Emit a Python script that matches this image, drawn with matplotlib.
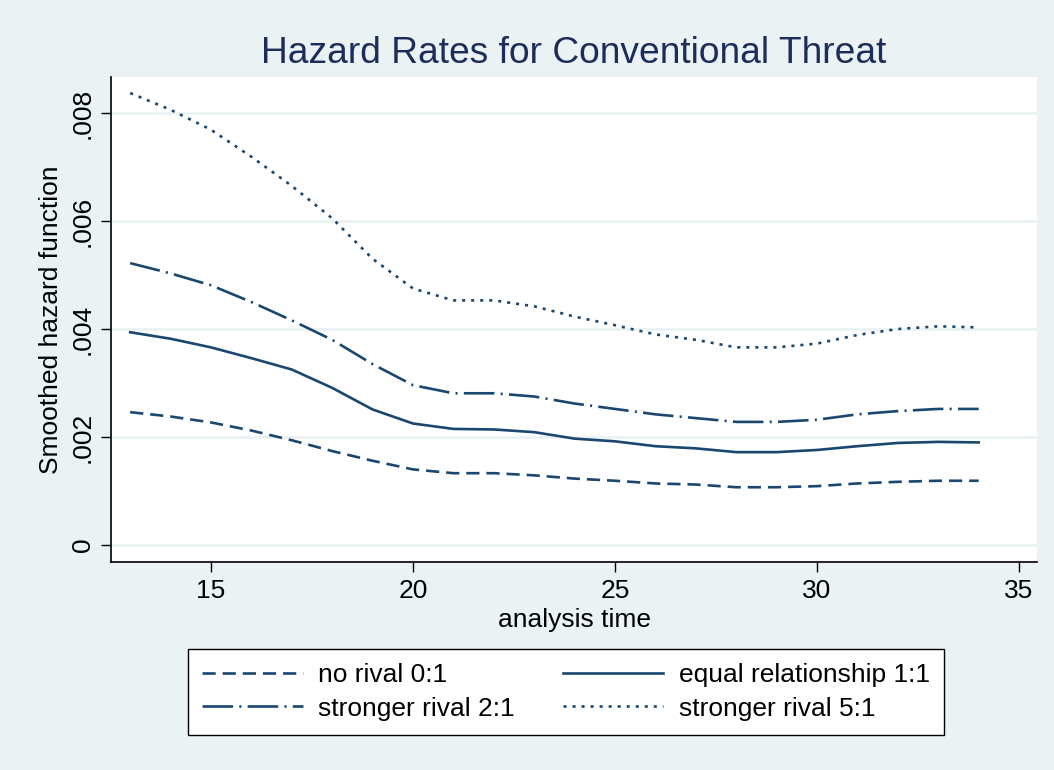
import matplotlib
matplotlib.use("Agg")
import matplotlib.pyplot as plt
import numpy as np

# Smoothed hazard estimates
t = [13, 14, 15, 16, 17, 18, 19, 20, 21, 22, 23, 24, 25, 26, 27, 28, 29, 30, 31, 32, 33, 34]
h_no_rival = [.00246, .00238, .00227, .00212, .00194, .00174, .00156, .00140, .00133, .00133, .00129,
              .00123, .00119, .00114, .00112, .00107, .00107, .00109, .00114, .00117, .00119, .00119]
h_equal = [.00394, .00382, .00366, .00346, .00325, .00291, .00251, .00225, .00215, .00214, .00209,
           .00197, .00192, .00183, .00179, .00172, .00172, .00176, .00183, .00189, .00191, .00190]
h_rival2 = [.00522, .00503, .00481, .00450, .00416, .00380, .00335, .00296, .00281, .00281, .00275,
            .00262, .00252, .00242, .00235, .00228, .00228, .00232, .00242, .00248, .00252, .00252]
h_rival5 = [.00837, .00806, .00769, .00719, .00665, .00605, .00530, .00475, .00453, .00453, .00442,
            .00423, .00407, .00390, .00380, .00366, .00366, .00373, .00389, .00400, .00405, .00403]

labels = ["no rival 0:1", "equal relationship 1:1", "stronger rival 2:1", "stronger rival 5:1"]
xticks = [15, 20, 25, 30, 35]
yticks = [0, .002, .004, .006, .008]
yticklabels = ["0", ".002", ".004", ".006", ".008"]

plt.rcParams['font.family'] = ['Liberation Sans', 'DejaVu Sans']
plt.rcParams['lines.scale_dashes'] = False

bg = "#eaf2f3"
navy = "#1a476f"
fs = 19

fig = plt.figure(figsize=(10.54, 7.7), dpi=100, facecolor=bg)
ax = fig.add_axes([0.1053, 0.2701, 0.8786, 0.6299])
ax.set_facecolor("white")

lw = 1.9
l1, = ax.plot(t, h_no_rival, color=navy, lw=lw, dashes=(9.5, 5))
l2, = ax.plot(t, h_equal, color=navy, lw=lw)
l3, = ax.plot(t, h_rival2, color=navy, lw=lw, dashes=(22, 4.5, 1.5, 4.5))
l4, = ax.plot(t, h_rival5, color=navy, lw=lw, dashes=(2.2, 4.3))

ax.set_xlim(12.525, 35.445)
ax.set_ylim(-0.000315, 0.008667)
ax.set_xticks(xticks)
ax.set_yticks(yticks)
ax.set_yticklabels(yticklabels, rotation=90, va="center")
ax.tick_params(axis="both", length=7.5, width=1, labelsize=fs, color="black")
ax.tick_params(axis="x", pad=5)
ax.tick_params(axis="y", pad=4)
ax.grid(axis="y", color=bg, lw=2)
ax.set_axisbelow(True)
for s in ["top", "right"]:
    ax.spines[s].set_visible(False)
for s in ["left", "bottom"]:
    ax.spines[s].set_linewidth(1.2)

ax.set_xlabel("analysis time", fontsize=fs, labelpad=3)
ax.set_ylabel("Smoothed hazard function", fontsize=fs, labelpad=6)
ax.set_title("Hazard Rates for Conventional Threat", fontsize=26.7, color="#1c2d5c", pad=10)

# row-wise order like Stata's legend
leg = fig.legend([l1, l3, l2, l4], [labels[0], labels[2], labels[1], labels[3]], ncol=2, loc="center",
                 bbox_to_anchor=(566 / 1054, 1 - 692 / 770), fontsize=fs,
                 frameon=True, fancybox=False, edgecolor="black", framealpha=1,
                 handlelength=3.8, handletextpad=0.6, columnspacing=1.8,
                 borderpad=0.55, labelspacing=0.35, borderaxespad=0)
leg.get_frame().set_linewidth(1.0)

fig.savefig("out.png", dpi=100, facecolor=bg)
